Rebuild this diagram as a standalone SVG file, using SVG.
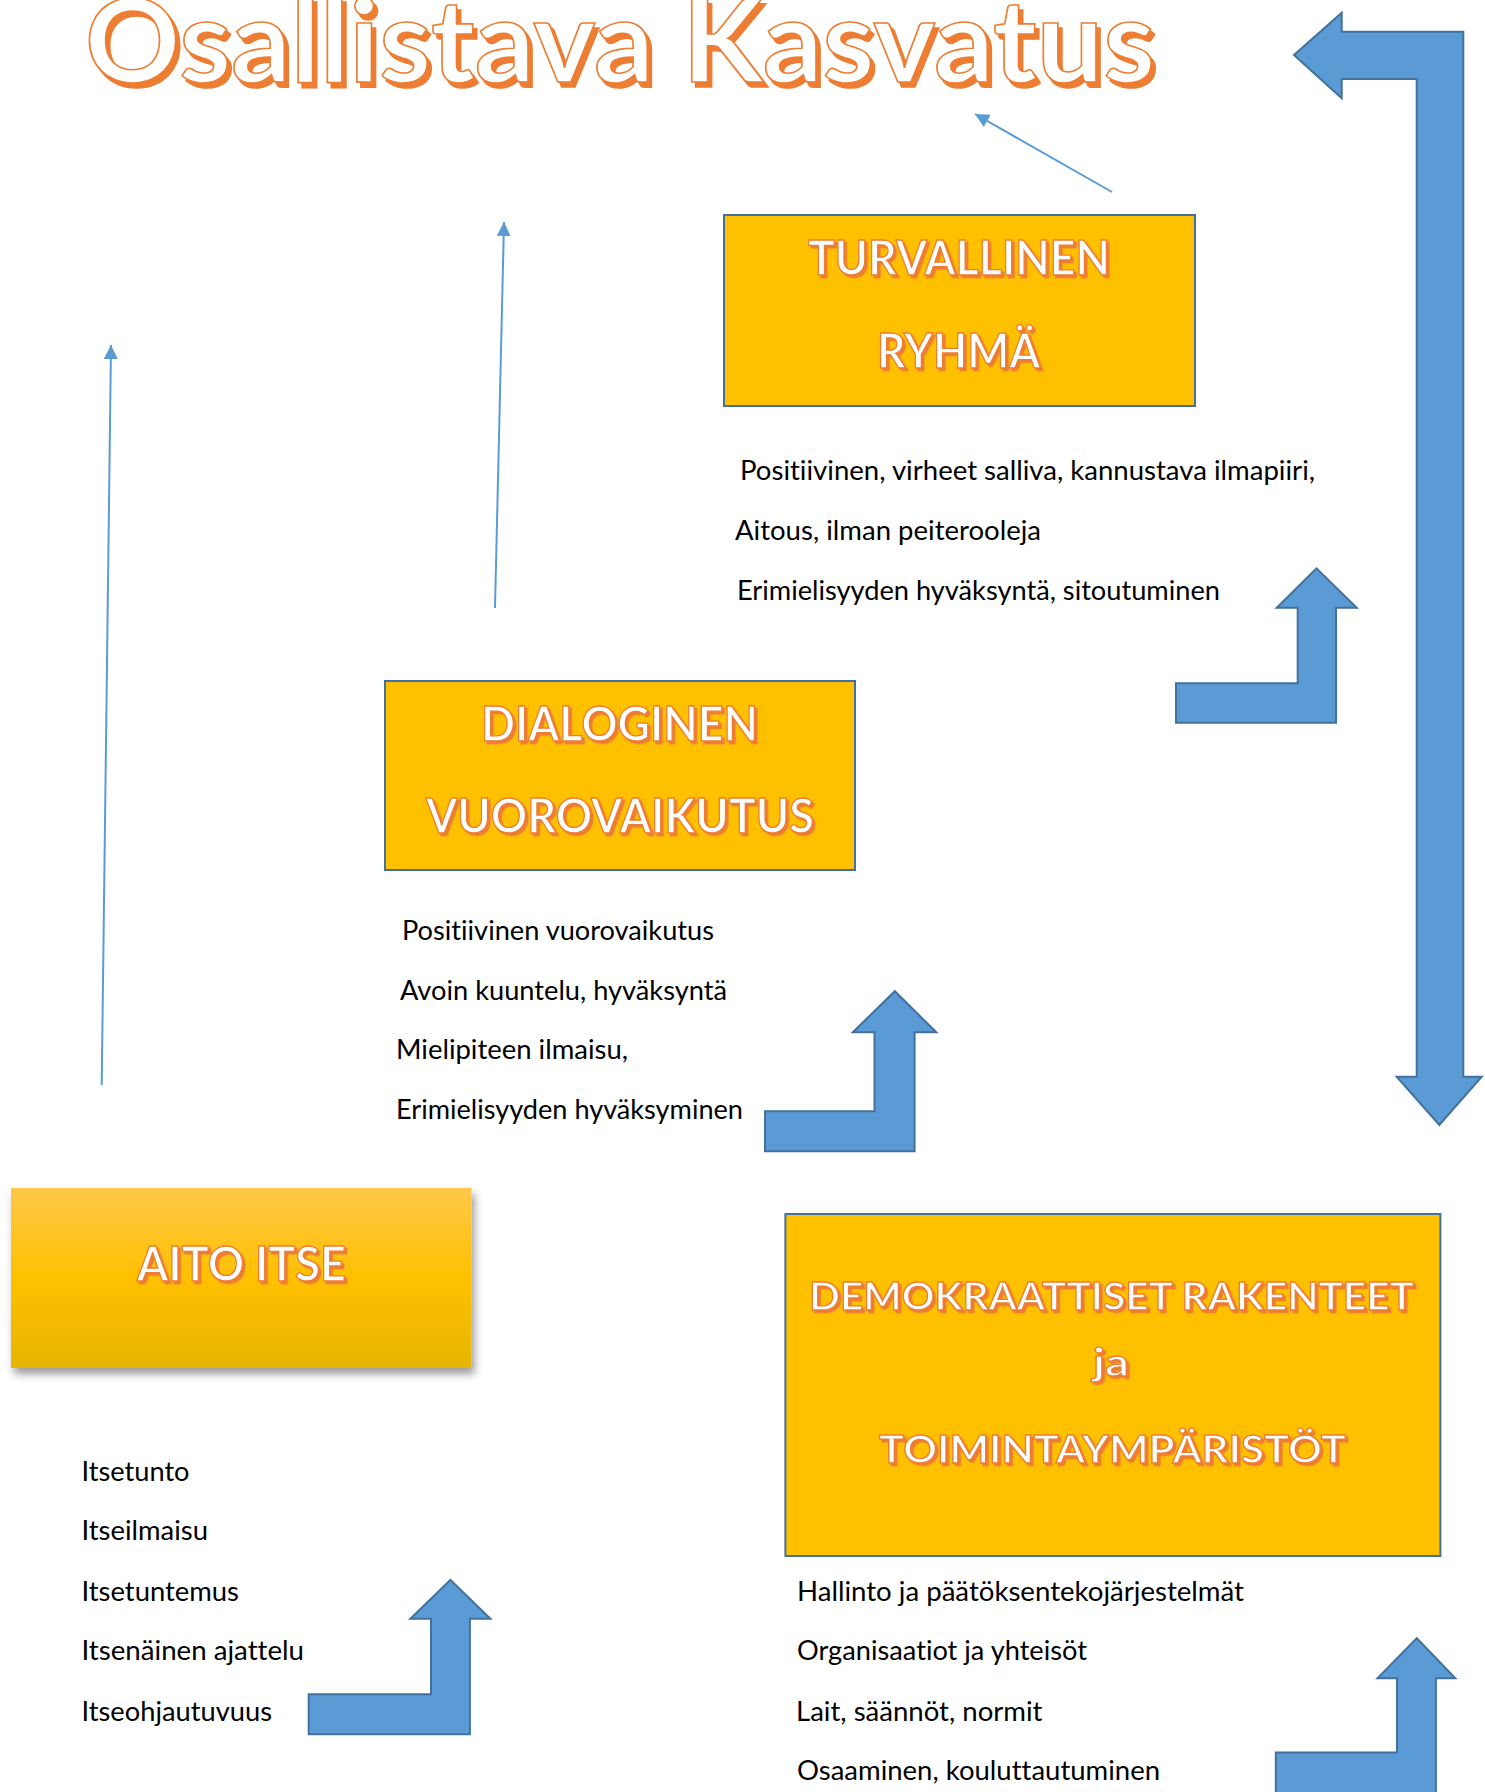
<svg xmlns="http://www.w3.org/2000/svg" width="1485" height="1792" viewBox="0 0 1485 1792">
<defs>
<style>
text{font-variant-ligatures:none}
.box{fill:#FFC000;stroke:#41719C;stroke-width:2}
.big{fill:#5B9BD5;stroke:#41719C;stroke-width:2;stroke-linejoin:miter}
.line{stroke:#5B9BD5;stroke-width:2;fill:none}
.ht{font-family:Lato,"Liberation Sans",sans-serif;font-weight:700;fill:#FFFFFF;stroke:#ED7D31;stroke-width:1.3;filter:url(#ts)}
.title{font-family:Lato,"Liberation Sans",sans-serif;font-weight:700;font-size:114px;fill:#FFFFFF;stroke:#ED7D31;stroke-width:1.6;filter:url(#tts)}
.bt{font-family:Lato,"Liberation Sans",sans-serif;font-size:27px;fill:#000000}
</style>
<filter id="ts" x="-10%" y="-30%" width="120%" height="160%">
<feDropShadow dx="2.5" dy="2.5" stdDeviation="0.5" flood-color="#ED7D31" flood-opacity="1"/>
</filter>
<filter id="tts" x="-10%" y="-30%" width="120%" height="160%">
<feDropShadow dx="4" dy="5" stdDeviation="0.6" flood-color="#ED7D31" flood-opacity="1"/>
</filter>
<filter id="bs" x="-10%" y="-20%" width="125%" height="150%">
<feDropShadow dx="3" dy="6" stdDeviation="4" flood-color="#000000" flood-opacity="0.4"/>
</filter>
<linearGradient id="ag" x1="0" y1="0" x2="0" y2="1">
<stop offset="0" stop-color="#FFC84A"/>
<stop offset="0.5" stop-color="#FFC000"/>
<stop offset="1" stop-color="#E6B500"/>
</linearGradient>
<marker id="ah" markerUnits="userSpaceOnUse" markerWidth="16" markerHeight="14" refX="14" refY="7" orient="auto">
<path d="M0,0 L14,7 L0,14 Z" fill="#5B9BD5"/>
</marker>
</defs>
<rect width="1485" height="1792" fill="#FFFFFF"/>

<g id="title">
<text class="title" x="85" y="82" textLength="1070" lengthAdjust="spacingAndGlyphs">Osallistava Kasvatus</text>
</g>

<g id="connectors">
<line class="line" x1="1112" y1="192" x2="975" y2="114" marker-end="url(#ah)"/>
<line class="line" x1="495" y1="608" x2="504" y2="222" marker-end="url(#ah)"/>
<line class="line" x1="101.7" y1="1085" x2="111" y2="345" marker-end="url(#ah)"/>
<path class="big" d="M1294,55 L1341.7,12.7 L1341.7,31.7 L1463.3,31.7 L1463.3,1076.7 L1481.7,1076.7 L1439.3,1125 L1396.7,1076.7 L1416.7,1076.7 L1416.7,79 L1341.7,79 L1341.7,98.3 Z"/>
<path class="big" d="M1176,683.3 L1297.7,683.3 L1297.7,607.7 L1276.7,607.7 L1316.5,568.3 L1356.7,607.7 L1336,607.7 L1336,722.7 L1176,722.7 Z"/>
<path class="big" d="M765,1111.2 L874.5,1111.2 L874.5,1032.3 L852.8,1032.3 L894.8,991.2 L936.3,1032.3 L914.6,1032.3 L914.6,1151.2 L765,1151.2 Z"/>
<path class="big" d="M308.7,1694.2 L431,1694.2 L431,1618.8 L410.4,1618.8 L450.4,1579.9 L490.4,1618.8 L469.9,1618.8 L469.9,1734.2 L308.7,1734.2 Z"/>
<path class="big" d="M1275.8,1752.5 L1397,1752.5 L1397,1678.2 L1377.5,1678.2 L1416.8,1638.2 L1455.3,1678.2 L1435.9,1678.2 L1435.9,1794 L1275.8,1794 Z"/>
</g>

<g id="turvallinen-ryhma">
<rect class="box" x="724" y="215" width="471" height="191"/>
<text class="ht" x="808" y="275" font-size="47" textLength="302" lengthAdjust="spacingAndGlyphs">TURVALLINEN</text>
<text class="ht" x="877" y="368" font-size="47" textLength="163" lengthAdjust="spacingAndGlyphs">RYHMÄ</text>
</g>
<g id="turvallinen-text">
<text class="bt" x="740" y="480" textLength="575" lengthAdjust="spacingAndGlyphs">Positiivinen, virheet salliva, kannustava ilmapiiri,</text>
<text class="bt" x="735" y="540" textLength="306" lengthAdjust="spacingAndGlyphs">Aitous, ilman peiterooleja</text>
<text class="bt" x="737" y="599.5" textLength="483" lengthAdjust="spacingAndGlyphs">Erimielisyyden hyväksyntä, sitoutuminen</text>
</g>

<g id="dialoginen-vuorovaikutus">
<rect class="box" x="385" y="681" width="470" height="189"/>
<text class="ht" x="481" y="741" font-size="47" textLength="277" lengthAdjust="spacingAndGlyphs">DIALOGINEN</text>
<text class="ht" x="426" y="833" font-size="47" textLength="388" lengthAdjust="spacingAndGlyphs">VUOROVAIKUTUS</text>
</g>
<g id="dialoginen-text">
<text class="bt" x="402" y="940" textLength="312" lengthAdjust="spacingAndGlyphs">Positiivinen vuorovaikutus</text>
<text class="bt" x="400" y="999.5" textLength="327" lengthAdjust="spacingAndGlyphs">Avoin kuuntelu, hyväksyntä</text>
<text class="bt" x="396" y="1059" textLength="232" lengthAdjust="spacingAndGlyphs">Mielipiteen ilmaisu,</text>
<text class="bt" x="396" y="1119" textLength="347" lengthAdjust="spacingAndGlyphs">Erimielisyyden hyväksyminen</text>
</g>

<g id="aito-itse">
<rect x="11" y="1188" width="460.5" height="180" fill="url(#ag)" filter="url(#bs)"/>
<text class="ht" x="137" y="1281" font-size="47" textLength="209" lengthAdjust="spacingAndGlyphs">AITO ITSE</text>
</g>
<g id="aito-text">
<text class="bt" x="81.5" y="1480.5" textLength="108" lengthAdjust="spacingAndGlyphs">Itsetunto</text>
<text class="bt" x="81.5" y="1540" textLength="126.5" lengthAdjust="spacingAndGlyphs">Itseilmaisu</text>
<text class="bt" x="81.5" y="1600.5" textLength="157.5" lengthAdjust="spacingAndGlyphs">Itsetuntemus</text>
<text class="bt" x="81.5" y="1660" textLength="222.5" lengthAdjust="spacingAndGlyphs">Itsenäinen ajattelu</text>
<text class="bt" x="81.5" y="1720.5" textLength="190.5" lengthAdjust="spacingAndGlyphs">Itseohjautuvuus</text>
</g>

<g id="demokraattiset-rakenteet">
<rect class="box" x="785.4" y="1214" width="655" height="342"/>
<text class="ht" x="809" y="1310" font-size="39" textLength="605" lengthAdjust="spacingAndGlyphs">DEMOKRAATTISET RAKENTEET</text>
<text class="ht" x="1093" y="1376" font-size="39" textLength="36" lengthAdjust="spacingAndGlyphs">ja</text>
<text class="ht" x="879" y="1463" font-size="39" textLength="467" lengthAdjust="spacingAndGlyphs">TOIMINTAYMPÄRISTÖT</text>
</g>
<g id="demokraattiset-text">
<text class="bt" x="797" y="1600.5" textLength="447" lengthAdjust="spacingAndGlyphs">Hallinto ja päätöksentekojärjestelmät</text>
<text class="bt" x="797" y="1660" textLength="290" lengthAdjust="spacingAndGlyphs">Organisaatiot ja yhteisöt</text>
<text class="bt" x="796" y="1720.5" textLength="246.5" lengthAdjust="spacingAndGlyphs">Lait, säännöt, normit</text>
<text class="bt" x="797" y="1780" textLength="363" lengthAdjust="spacingAndGlyphs">Osaaminen, kouluttautuminen</text>
</g>
</svg>
